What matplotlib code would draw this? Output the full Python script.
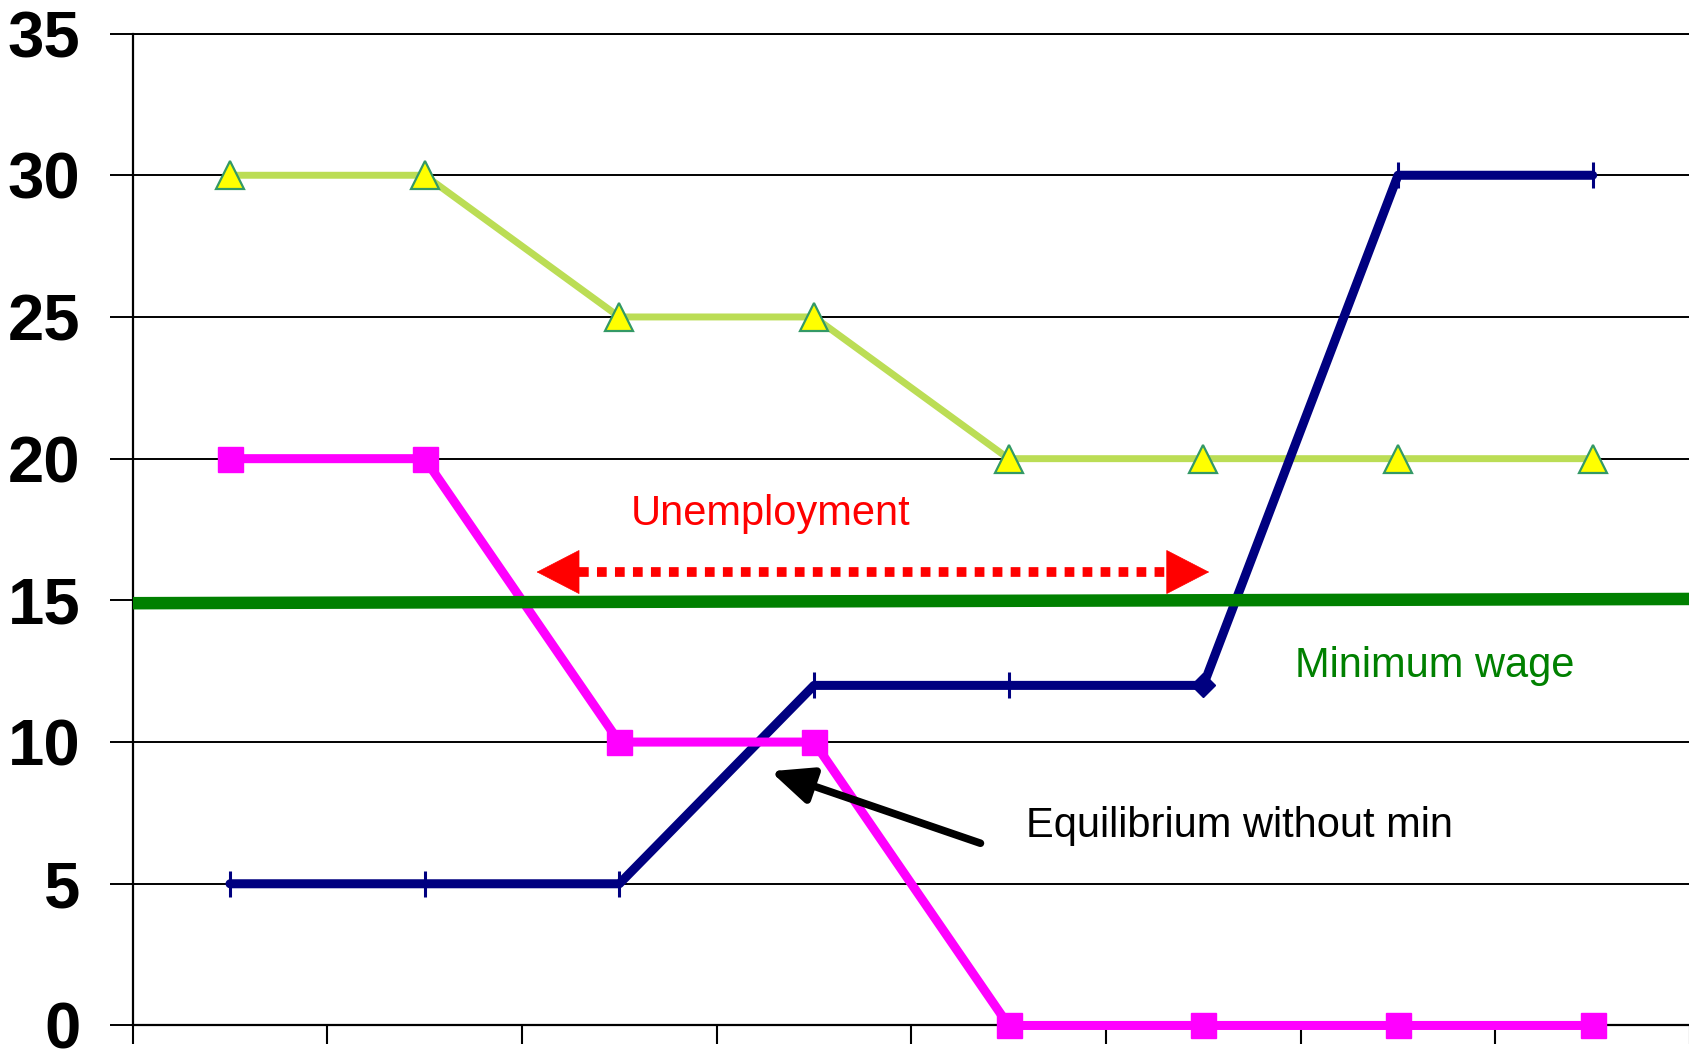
import numpy as np
import matplotlib
matplotlib.use('Agg')
import matplotlib.pyplot as plt

plt.rcParams['font.family'] = ['Liberation Sans', 'DejaVu Sans']

# quantity bins and the three curves
positions = np.arange(8) + 0.5
upper_curve = [30, 30, 25, 25, 20, 20, 20, 20]
demand = [20, 20, 10, 10, 0, 0, 0, 0]
supply = [5, 5, 5, 12, 12, 12, 30, 30]
y_ticks = [0, 5, 10, 15, 20, 25, 30, 35]

# minimum wage line (ends), unemployment gap, annotation arrow
min_wage_x = [0, 8]
min_wage_y = [14.9, 15.05]
gap_x = [2.075, 5.53]
gap_y = 16
eq_arrow_tail = (4.355, 6.43)
eq_arrow_tip = (3.276, 8.97)

fig = plt.figure(figsize=(16.9, 10.62), dpi=100)
ax = fig.add_axes([0.0785, 0.0344, 0.9215, 0.934])

ax.set_xlim(0, 8)
ax.set_ylim(0, 35)
ax.set_yticks(y_ticks)
ax.set_xticks(np.arange(9))
ax.set_xticklabels([])
ax.yaxis.grid(True, color='black', lw=1.4)
ax.set_axisbelow(True)
ax.spines['right'].set_visible(False)
ax.spines['top'].set_linewidth(1.4)
ax.spines['left'].set_linewidth(1.6)
ax.spines['bottom'].set_linewidth(1.6)
ax.tick_params(axis='y', length=16.5, width=1.4, pad=21, labelsize=47)
ax.tick_params(axis='x', length=14, width=1.5)
for lbl in ax.get_yticklabels():
    lbl.set_fontweight('bold')

ax.plot(positions, upper_curve, color='#BBDD55', lw=5, marker='^', ms=20,
        mfc='#FFFF00', mec='#339966', mew=1.6, zorder=3, clip_on=False)
ax.plot(positions, supply, color='#000080', lw=6.5, marker='|', ms=19, mew=2.2,
        markevery=[0, 1, 2, 3, 4, 6, 7], solid_capstyle='round', zorder=3)
ax.plot(positions[5], supply[5], color='#000080', marker='D', ms=12, zorder=3)
ax.plot(positions, demand, color='#FF00FF', lw=6.5, marker='s', ms=18, zorder=4,
        clip_on=False)

ax.plot(min_wage_x, min_wage_y, color='#008000', lw=9, solid_capstyle='butt',
        zorder=5)

# dotted double arrow for the unemployment gap
head_len = 0.216
ax.plot([gap_x[0] + head_len, gap_x[1] - head_len], [gap_y, gap_y], color='red',
        lw=7, dashes=(1, 0.85), dash_capstyle='butt', zorder=5)
for tip, tail in [(gap_x[0], gap_x[0] + head_len), (gap_x[1], gap_x[1] - head_len)]:
    ax.annotate('', xy=(tip, gap_y), xytext=(tail, gap_y),
                arrowprops=dict(arrowstyle='-|>,head_length=30,head_width=15.5',
                                mutation_scale=1, color='red', lw=0.5,
                                shrinkA=0, shrinkB=0), zorder=5)

ax.annotate('', xy=eq_arrow_tip, xytext=eq_arrow_tail,
            arrowprops=dict(arrowstyle='-|>,head_length=25,head_width=11',
                            mutation_scale=1, color='black', lw=5.5,
                            shrinkA=0, shrinkB=0), zorder=5)

ax.text(3.276, 18.06, 'Unemployment', color='red', fontsize=30,
        ha='center', va='center')
ax.text(6.69, 12.7, 'Minimum wage', color='#008000', fontsize=30,
        ha='center', va='center')
ax.text(4.588, 7.03, 'Equilibrium without min', color='black', fontsize=30,
        ha='left', va='center')

fig.savefig('out.png', dpi=100, facecolor='white')
